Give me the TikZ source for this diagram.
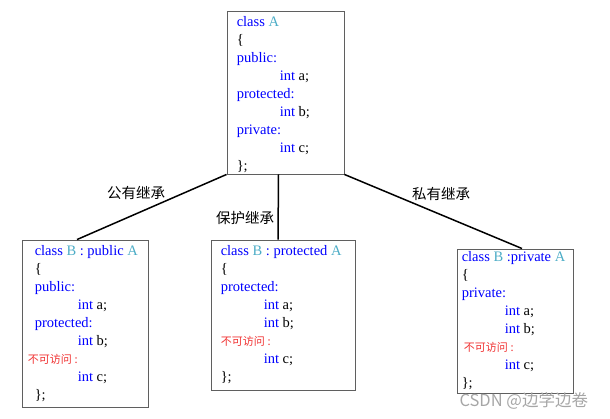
\documentclass[tikz,border=0pt]{standalone}
\usepackage{fontspec}
\setmainfont{Liberation Serif}
\newfontfamily\cjk{Noto Sans CJK SC}
\usetikzlibrary{positioning}
\definecolor{kwblue}{RGB}{0,0,255}
\definecolor{clsteal}{RGB}{75,172,198}
\definecolor{noaccred}{RGB}{240,50,50}
\definecolor{boxgray}{RGB}{95,95,95}
\newcommand{\kwd}[1]{\textcolor{kwblue}{#1}}
\newcommand{\clsname}[1]{\textcolor{clsteal}{#1}}
\newcommand{\indt}{\hspace*{43pt}}
\newcommand{\noacc}{{\cjk\fontsize{11}{11}\selectfont\textcolor{noaccred}{不可访问\hspace{3pt}:}}}

\begin{document}
\begin{tikzpicture}[
    x=1pt, y=-1pt,
    classbox/.style={rectangle, draw=boxgray, line width=0.9pt, inner sep=0pt},
    code/.style={align=left, inner sep=0pt, font=\fontsize{14.5}{18}\selectfont},
    link/.style={line width=1.5pt},
    lbl/.style={font=\cjk\fontsize{14.5}{16}\selectfont}
]
\useasboundingbox (0,0) rectangle (610,419);

% Classe base
\node[classbox, minimum width=117, minimum height=163] (classa) at (285.5,92.5) {};
\node[code, right=10pt of classa.west, yshift=-2pt] (codea) {\kwd{class} \clsname{A}\\
{\{}\\
\kwd{public:}\\
\indt\kwd{int} a;\\
\kwd{protected:}\\
\indt\kwd{int} b;\\
\kwd{private:}\\
\indt\kwd{int} c;\\
\};};

% Classi derivate
\node[classbox, minimum width=126, minimum height=167] (pubb) at (85,323.5) {};
\node[code, right=13pt of pubb.west] (codepub) {\kwd{class} \clsname{B} \kwd{: public} \clsname{A}\\
{\{}\\
\kwd{public:}\\
\indt\kwd{int} a;\\
\kwd{protected:}\\
\indt\kwd{int} b;\\
\hspace*{-7pt}\noacc\\
\indt\kwd{int} c;\\
\};};

\node[classbox, minimum width=144, minimum height=150] (protb) at (283,315) {};
\node[code, right=10pt of protb.west] (codeprot) {\kwd{class} \clsname{B} \kwd{: protected} \clsname{A}\\
{\{}\\
\kwd{protected:}\\
\indt\kwd{int} a;\\
\indt\kwd{int} b;\\
\noacc\\
\indt\kwd{int} c;\\
\};};

\node[classbox, minimum width=116, minimum height=144] (privb) at (515,321) {};
\node[code, right=5pt of privb.west] (codepriv) {\kwd{class} \clsname{B} \kwd{:private} \clsname{A}\\
{\{}\\
\kwd{private:}\\
\indt\kwd{int} a;\\
\indt\kwd{int} b;\\
\hspace*{2pt}\noacc\\
\indt\kwd{int} c;\\
\};};

% Collegamenti
\draw[link] (classa.south west) -- ([xshift=-8pt]pubb.north);
\draw[link] ([xshift=-7pt]classa.south) -- ([xshift=-5pt]protb.north);
\draw[link] (classa.south east) -- ([xshift=7pt]privb.north);

% Etichette
\node[lbl] (pubinh) at (136,193) {公有继承};
\node[lbl] (protinh) at (245,218) {保护继承};
\node[lbl] (privinh) at (441,194) {私有继承};

\node[font=\cjk\fontsize{16.5}{16.5}\selectfont, text=black!35, anchor=west] (mark) at (456,401) {CSDN @边学边卷};

\end{tikzpicture}
\end{document}
